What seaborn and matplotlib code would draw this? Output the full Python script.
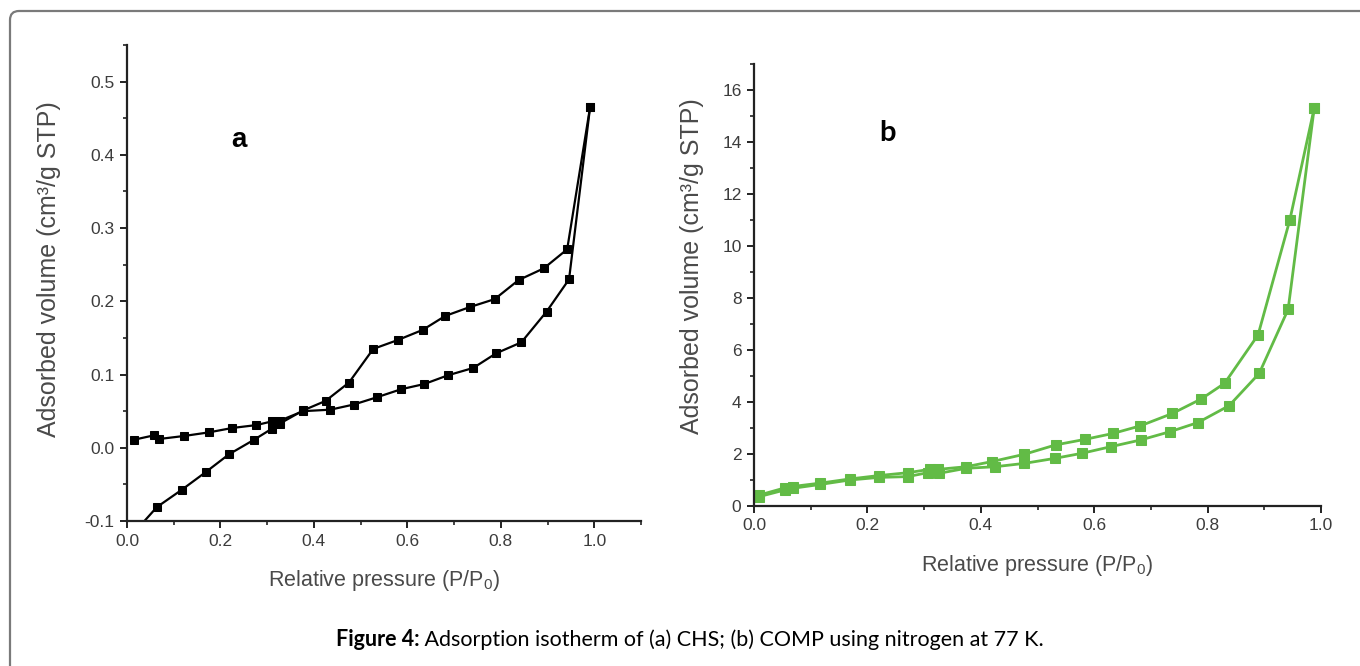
import numpy as np
import pandas as pd
import matplotlib
matplotlib.use("Agg")
import matplotlib.pyplot as plt
from matplotlib.ticker import MultipleLocator, FormatStrFormatter
from matplotlib.patches import FancyBboxPatch
import seaborn as sns

# ---------------- data ----------------
# Panel a (CHS): branch 1 (rising, then upper loop)
a1_x = [0.012, 0.064, 0.118, 0.169, 0.218, 0.272, 0.310, 0.327, 0.377, 0.425, 0.475,
        0.527, 0.579, 0.633, 0.681, 0.733, 0.787, 0.838, 0.892, 0.942, 0.991]
a1_y = [-0.118, -0.081, -0.057, -0.033, -0.009, 0.011, 0.026, 0.033, 0.051, 0.064, 0.089,
        0.135, 0.147, 0.161, 0.180, 0.192, 0.203, 0.229, 0.245, 0.271, 0.465]
# Panel a (CHS): branch 2 (lower loop back to low pressure)
a2_x = [0.991, 0.946, 0.898, 0.844, 0.790, 0.741, 0.687, 0.636, 0.587, 0.535, 0.485,
        0.435, 0.377, 0.327, 0.310, 0.277, 0.225, 0.175, 0.121, 0.069, 0.058, 0.015]
a2_y = [0.465, 0.230, 0.186, 0.144, 0.129, 0.109, 0.099, 0.087, 0.080, 0.069, 0.059,
        0.052, 0.050, 0.037, 0.036, 0.031, 0.027, 0.021, 0.016, 0.012, 0.017, 0.011]

# Panel b (COMP): adsorption branch
b_ads_x = [0.009, 0.055, 0.068, 0.117, 0.169, 0.220, 0.271, 0.306, 0.327, 0.374, 0.425,
           0.477, 0.530, 0.579, 0.629, 0.682, 0.734, 0.783, 0.838, 0.891, 0.942, 0.988]
b_ads_y = [0.36, 0.62, 0.68, 0.83, 1.00, 1.10, 1.13, 1.28, 1.26, 1.45, 1.51,
           1.64, 1.83, 2.03, 2.28, 2.54, 2.86, 3.21, 3.86, 5.10, 7.56, 15.3]
# Panel b (COMP): desorption branch
b_des_x = [0.988, 0.945, 0.889, 0.830, 0.789, 0.738, 0.681, 0.633, 0.583, 0.532, 0.477,
           0.420, 0.374, 0.325, 0.310, 0.271, 0.220, 0.169, 0.117, 0.068, 0.055, 0.009]
b_des_y = [15.3, 11.0, 6.58, 4.72, 4.12, 3.56, 3.08, 2.79, 2.56, 2.35, 1.99,
           1.71, 1.51, 1.41, 1.41, 1.28, 1.17, 1.04, 0.88, 0.75, 0.70, 0.42]

x_label = "Relative pressure (P/P$_0$)"
y_label = "Adsorbed volume (cm³/g STP)"
caption_bold = "Figure 4:"
caption_rest = " Adsorption isotherm of (a) CHS; (b) COMP using nitrogen at 77 K."

# ---------------- style ----------------
sns.set_style("ticks")
plt.rcParams["font.family"] = ["Liberation Sans", "DejaVu Sans"]
plt.rcParams["mathtext.fontset"] = "custom"
plt.rcParams["mathtext.rm"] = "Liberation Sans"
plt.rcParams["mathtext.it"] = "Liberation Sans"

W, H = 1360, 666
fig = plt.figure(figsize=(W / 100, H / 100), dpi=100)
fig.patch.set_facecolor("white")

tick_col = "#3c3c3c"
lab_col = "#4a4a4a"
spine_col = "#222222"
green = "#62bb46"


def px_axes(l, r, t, b):
    return fig.add_axes([l / W, 1 - b / H, (r - l) / W, (b - t) / H])


def style_axes(ax):
    for s in ["top", "right"]:
        ax.spines[s].set_visible(False)
    for s in ["left", "bottom"]:
        ax.spines[s].set_color(spine_col)
        ax.spines[s].set_linewidth(1.6)
    ax.tick_params(which="major", direction="out", length=5, width=1.4,
                   colors=spine_col, labelcolor=tick_col, labelsize=12.5, pad=4)
    ax.tick_params(which="minor", direction="out", length=3, width=1.2, colors=spine_col)
    ax.set_facecolor("white")


# ---- panel a ----
axa = px_axes(127, 641, 45, 521)
da1 = pd.DataFrame({"x": a1_x, "y": a1_y})
da2 = pd.DataFrame({"x": a2_x, "y": a2_y})
for d in (da1, da2):
    sns.lineplot(data=d, x="x", y="y", sort=False, estimator=None, ax=axa,
                 color="black", lw=1.6, marker="s", markersize=6,
                 markeredgecolor="black", markerfacecolor="black")
axa.set_xlim(0, 1.1)
axa.set_ylim(-0.1, 0.55)
axa.xaxis.set_minor_locator(MultipleLocator(0.1))
axa.yaxis.set_minor_locator(MultipleLocator(0.05))
axa.set_xticks([0, 0.2, 0.4, 0.6, 0.8, 1.0])
axa.set_yticks([-0.1, 0, 0.1, 0.2, 0.3, 0.4, 0.5])
axa.xaxis.set_major_formatter(FormatStrFormatter("%.1f"))
axa.yaxis.set_major_formatter(FormatStrFormatter("%.1f"))
style_axes(axa)
axa.set_xlabel(x_label, fontsize=15.5, color=lab_col, labelpad=14)
axa.set_ylabel(y_label, fontsize=18, color=lab_col)
axa.yaxis.set_label_coords(-0.128, 0.53)
axa.text(0.218, 0.80, "a", transform=axa.transAxes, fontsize=20, fontweight="bold",
         color="black", ha="center", va="center")

# ---- panel b ----
axb = px_axes(754, 1321, 64, 506)
db1 = pd.DataFrame({"x": b_ads_x, "y": b_ads_y})
db2 = pd.DataFrame({"x": b_des_x, "y": b_des_y})
for d in (db1, db2):
    sns.lineplot(data=d, x="x", y="y", sort=False, estimator=None, ax=axb,
                 color=green, lw=2.0, marker="s", markersize=6.5,
                 markeredgecolor=green, markerfacecolor=green)
axb.set_xlim(0, 1.0)
axb.set_ylim(0, 17)
axb.set_xticks([0, 0.2, 0.4, 0.6, 0.8, 1.0])
axb.xaxis.set_minor_locator(MultipleLocator(0.1))
axb.set_yticks([0, 2, 4, 6, 8, 10, 12, 14, 16])
axb.yaxis.set_minor_locator(MultipleLocator(1))
axb.xaxis.set_major_formatter(FormatStrFormatter("%.1f"))
axb.yaxis.set_major_formatter(FormatStrFormatter("%d"))
style_axes(axb)
axb.set_xlabel(x_label, fontsize=15.5, color=lab_col, labelpad=14)
axb.set_ylabel(y_label, fontsize=18, color=lab_col)
axb.yaxis.set_label_coords(-0.088, 0.543)
axb.text(0.235, 0.845, "b", transform=axb.transAxes, fontsize=21, fontweight="bold",
         color="black", ha="center", va="center", family=["Lato", "DejaVu Sans"])

# ---- border ----
border = FancyBboxPatch((0.10, -0.5), 14.0, 6.55 + 0.5, transform=fig.dpi_scale_trans,
                        boxstyle="round,pad=0,rounding_size=0.09",
                        facecolor="none", edgecolor="#7a7a7a", lw=1.6, zorder=10)
fig.patches.append(border)

# ---- caption ----
fig.canvas.draw()
renderer = fig.canvas.get_renderer()
cap_y = 1 - 640 / H
t1 = fig.text(0, cap_y, caption_bold, fontsize=15.5, fontweight="bold",
              family=["Lato", "DejaVu Sans"], color="black", ha="left", va="center")
t2 = fig.text(0, cap_y, caption_rest, fontsize=15.5,
              family=["Lato", "DejaVu Sans"], color="black", ha="left", va="center")
w1 = t1.get_window_extent(renderer).width
w2 = t2.get_window_extent(renderer).width
x0 = 690 - (w1 + w2) / 2
t1.set_x(x0 / W)
t2.set_x((x0 + w1) / W)

fig.savefig("out.png", dpi=100, facecolor="white")
